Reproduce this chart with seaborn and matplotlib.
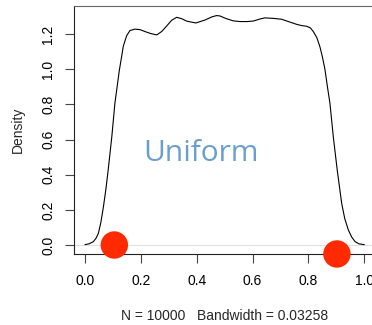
import matplotlib
matplotlib.use("Agg")
import matplotlib.pyplot as plt
import seaborn as sns
import pandas as pd

# density curve
x_vals = [0.0, 0.015, 0.03, 0.04, 0.048, 0.057, 0.066, 0.075, 0.083, 0.096,
          0.107, 0.115, 0.123, 0.131, 0.137, 0.149, 0.161, 0.179, 0.197, 0.215,
          0.235, 0.257, 0.275, 0.292, 0.31, 0.328, 0.345, 0.365, 0.397, 0.43,
          0.455, 0.471, 0.483, 0.505, 0.531, 0.555, 0.58, 0.603, 0.625, 0.644,
          0.675, 0.704, 0.73, 0.758, 0.776, 0.794, 0.807, 0.817, 0.83, 0.841,
          0.85, 0.859, 0.868, 0.877, 0.889, 0.903, 0.919, 0.93, 0.943, 0.955,
          0.967, 0.98, 1.0]
density = [0.002, 0.007, 0.019, 0.04, 0.067, 0.13, 0.218, 0.32, 0.427, 0.616,
           0.806, 0.9, 0.995, 1.07, 1.13, 1.19, 1.22, 1.228, 1.225, 1.214,
           1.203, 1.195, 1.215, 1.245, 1.278, 1.295, 1.288, 1.273, 1.263, 1.28,
           1.298, 1.305, 1.303, 1.288, 1.275, 1.271, 1.271, 1.274, 1.285, 1.292,
           1.289, 1.284, 1.27, 1.255, 1.248, 1.244, 1.235, 1.215, 1.18, 1.128,
           1.07, 1.0, 0.9, 0.806, 0.616, 0.427, 0.237, 0.15, 0.085, 0.045,
           0.019, 0.007, 0.002]

# red markers
dot_x = [0.105, 0.902]
dot_y = [0.0, -0.051]

x_ticks = [0.0, 0.2, 0.4, 0.6, 0.8, 1.0]
y_ticks = [0.0, 0.2, 0.4, 0.6, 0.8, 1.0, 1.2]

xlabel = "N = 10000   Bandwidth = 0.03258"
ylabel = "Density"
overlay = "Uniform"

sns.set_style("ticks")
plt.rcParams["font.family"] = ["Liberation Sans", "DejaVu Sans"]

fig = plt.figure(figsize=(3.72, 3.25), dpi=100)
ax = fig.add_axes([74 / 372, 1 - 254 / 325, 302 / 372, 248 / 325])

df = pd.DataFrame({"x": x_vals, "density": density})
dots = pd.DataFrame({"x": dot_x, "y": dot_y})

ax.axhline(0, color="#d8d8d8", lw=0.6, zorder=0)
sns.lineplot(data=df, x="x", y="density", ax=ax, color="black", lw=0.8, sort=False)
sns.scatterplot(data=dots, x="x", y="y", ax=ax, color="#ff2a00", s=390,
                edgecolor="none", zorder=5, clip_on=False)

ax.set_xlim(-0.0394, 1.0419)
ax.set_ylim(-0.0512, 1.3595)
ax.set_xticks(x_ticks)
ax.set_xticklabels([f"{v:.1f}" for v in x_ticks])
ax.set_yticks(y_ticks)
ax.set_yticklabels([f"{v:.1f}" for v in y_ticks], rotation=90, va="center")

for s in ["left", "top", "bottom", "right"]:
    ax.spines[s].set_visible(True)
    ax.spines[s].set_color("#222222")
    ax.spines[s].set_linewidth(0.8)
ax.spines["top"].set_color("#666666")

ax.tick_params(axis="both", direction="out", length=6.5, width=0.8,
               color="#444444", labelsize=10, labelcolor="black")
ax.tick_params(axis="x", pad=8)
ax.tick_params(axis="y", pad=7)

ax.set_xlabel(xlabel, fontsize=10, labelpad=15)
ax.set_ylabel(ylabel, fontsize=10, labelpad=12)

ax.text(0.415, 0.52, overlay, color="#6a9fcd", fontsize=21.5,
        family=["Open Sans", "DejaVu Sans"], ha="center", va="center")

fig.savefig("out.png", dpi=100)
